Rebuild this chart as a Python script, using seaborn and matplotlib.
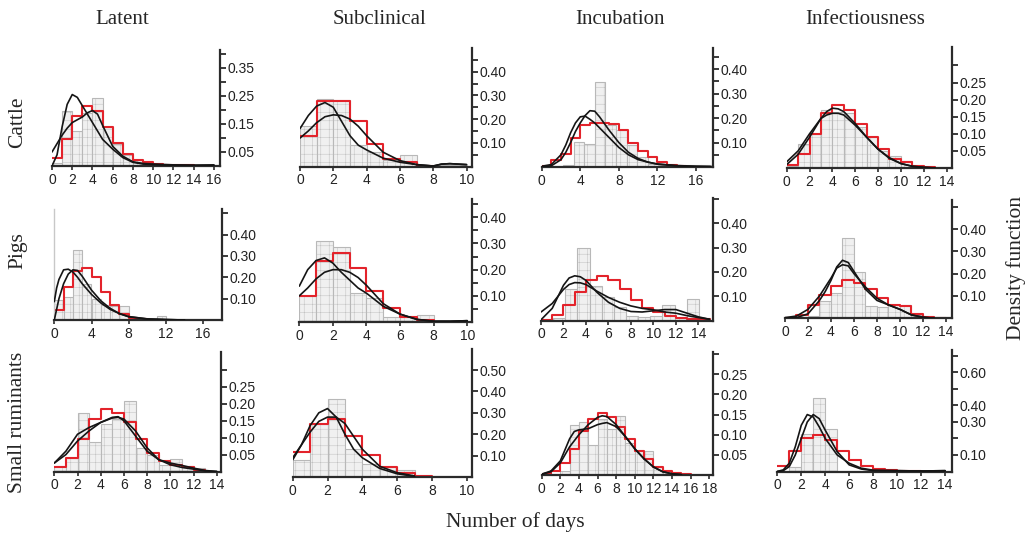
import numpy as np
import pandas as pd
import matplotlib
matplotlib.use("Agg")
import matplotlib.pyplot as plt
import seaborn as sns

# ---------------- data ----------------
col_titles = ["Latent", "Subclinical", "Incubation", "Infectiousness"]
row_titles = ["Cattle", "Pigs", "Small ruminants"]

# Cattle - Latent
cl_gray = [0.01, 0.195, 0.125, 0.19, 0.243, 0.14, 0.08, 0.04, 0.02, 0.01, 0.005, 0.004, 0.003, 0.002, 0.002, 0.004]
cl_red = [0.03, 0.098, 0.18, 0.213, 0.195, 0.139, 0.082, 0.044, 0.02, 0.014, 0.008, 0.005, 0.003, 0.002]
cl_x = [0, 0.5, 1, 1.5, 2, 2.5, 3, 3.5, 4, 4.5, 5, 6, 7, 8, 9, 10, 12, 14, 16]
cl_a = [0.0, 0.04, 0.14, 0.22, 0.255, 0.245, 0.215, 0.185, 0.155, 0.125, 0.095, 0.06, 0.03, 0.013, 0.007, 0.005, 0.003, 0.002, 0.002]
cl_b = [0.05, 0.08, 0.11, 0.135, 0.155, 0.165, 0.175, 0.19, 0.198, 0.185, 0.145, 0.07, 0.035, 0.015, 0.009, 0.007, 0.004, 0.003, 0.004]

# Cattle - Subclinical
cs_gray = [0.172, 0.285, 0.279, 0.09, 0.06, 0.028, 0.05, 0.0, 0.005, 0.005]
cs_red = [0.13, 0.277, 0.277, 0.19, 0.094, 0.03, 0.02, 0.003]
cs_x = [0, 0.5, 1, 1.5, 2, 2.5, 3, 3.5, 4, 5, 6, 7, 8, 8.5, 9, 10]
cs_a = [0.16, 0.215, 0.255, 0.27, 0.25, 0.19, 0.13, 0.09, 0.07, 0.035, 0.018, 0.008, 0.002, 0.01, 0.012, 0.008]
cs_b = [0.12, 0.15, 0.185, 0.21, 0.218, 0.215, 0.2, 0.17, 0.13, 0.06, 0.025, 0.008, 0.002, 0.01, 0.012, 0.008]

# Cattle - Incubation (gray bins are ~1.1 days wide)
ci_gray_width = 1.1
ci_gray = [0.0, 0.0, 0.01, 0.104, 0.095, 0.346, 0.17, 0.15, 0.09, 0.04, 0.012, 0.01, 0.01, 0.008, 0.008, 0.008]
ci_red = [0.003, 0.027, 0.054, 0.12, 0.172, 0.18, 0.18, 0.175, 0.15, 0.10, 0.065, 0.04, 0.02, 0.01, 0.005]
ci_x = [0, 1, 2, 2.5, 3, 3.5, 4, 4.5, 5, 5.5, 6, 7, 8, 9, 10, 11, 12, 14, 16, 17.5]
ci_a = [0.0, 0.005, 0.03, 0.06, 0.1, 0.145, 0.18, 0.21, 0.23, 0.228, 0.205, 0.15, 0.1, 0.06, 0.035, 0.02, 0.012, 0.005, 0.002, 0.001]
ci_b = [0.003, 0.01, 0.05, 0.09, 0.14, 0.18, 0.205, 0.208, 0.195, 0.18, 0.16, 0.12, 0.08, 0.05, 0.03, 0.02, 0.012, 0.006, 0.003, 0.002]

# Cattle - Infectiousness
cf_gray = [0.005, 0.069, 0.10, 0.169, 0.165, 0.16, 0.12, 0.09, 0.05, 0.034, 0.02, 0.005, 0.002]
cf_red = [0.008, 0.04, 0.10, 0.16, 0.185, 0.17, 0.13, 0.09, 0.057, 0.025, 0.017, 0.005, 0.002]
cf_x = [0, 1, 2, 3, 3.5, 4, 4.5, 5, 6, 7, 8, 9, 10, 11, 12, 13]
cf_a = [0.01, 0.04, 0.09, 0.145, 0.165, 0.175, 0.173, 0.165, 0.13, 0.09, 0.055, 0.03, 0.013, 0.005, 0.002, 0.0]
cf_b = [0.018, 0.05, 0.1, 0.145, 0.155, 0.16, 0.16, 0.155, 0.125, 0.09, 0.055, 0.028, 0.013, 0.005, 0.002, 0.0]

# Pigs - Latent
pl_gray = [0.094, 0.11, 0.328, 0.17, 0.10, 0.07, 0.065, 0.065, 0.015, 0.01, 0.005, 0.02, 0.005]
pl_red = [0.047, 0.155, 0.23, 0.245, 0.2, 0.133, 0.07, 0.03, 0.01, 0.005]
pl_x = [0, 0.25, 0.5, 1, 1.5, 2, 2.5, 3, 4, 5, 6, 7, 8, 10, 12, 14]
pl_a = [0.086, 0.15, 0.19, 0.235, 0.238, 0.225, 0.2, 0.17, 0.12, 0.08, 0.05, 0.03, 0.015, 0.005, 0.002, 0.0]
pl_b = [0.0, 0.05, 0.1, 0.17, 0.215, 0.235, 0.232, 0.205, 0.14, 0.09, 0.055, 0.03, 0.016, 0.005, 0.002, 0.0]

# Pigs - Subclinical
ps_gray = [0.098, 0.309, 0.286, 0.11, 0.09, 0.02, 0.02, 0.025]
ps_red = [0.10, 0.235, 0.265, 0.205, 0.12, 0.055, 0.02, 0.008]
ps_x = [0, 0.5, 1, 1.5, 2, 2.5, 3, 3.5, 4, 5, 6, 7, 8, 9, 10]
ps_a = [0.137, 0.2, 0.235, 0.245, 0.225, 0.19, 0.16, 0.13, 0.11, 0.06, 0.03, 0.01, 0.003, 0.003, 0.005]
ps_b = [0.1, 0.13, 0.165, 0.19, 0.2, 0.2, 0.19, 0.17, 0.14, 0.07, 0.03, 0.01, 0.003, 0.003, 0.005]

# Pigs - Incubation (gray bins are ~1.08 days wide)
pi_gray_width = 1.08
pi_gray = [0.0, 0.01, 0.13, 0.30, 0.14, 0.097, 0.056, 0.02, 0.015, 0.02, 0.065, 0.01, 0.088]
pi_red = [0.003, 0.021, 0.063, 0.118, 0.166, 0.182, 0.166, 0.129, 0.083, 0.05, 0.035, 0.02, 0.012, 0.008, 0.005]
pi_x = [0, 1, 2, 2.5, 3, 3.5, 4, 5, 6, 7, 8, 9, 10, 11, 12, 13, 14, 15]
pi_a = [0.003, 0.05, 0.145, 0.175, 0.184, 0.18, 0.165, 0.115, 0.075, 0.05, 0.037, 0.035, 0.04, 0.045, 0.045, 0.03, 0.015, 0.005]
pi_b = [0.035, 0.07, 0.128, 0.148, 0.156, 0.155, 0.148, 0.12, 0.095, 0.075, 0.06, 0.05, 0.044, 0.035, 0.03, 0.02, 0.012, 0.005]

# Pigs - Infectiousness
pf_gray = [0.0, 0.0, 0.01, 0.078, 0.115, 0.36, 0.207, 0.055, 0.05, 0.06, 0.06, 0.015]
pf_red = [0.003, 0.015, 0.06, 0.105, 0.145, 0.17, 0.16, 0.13, 0.09, 0.06, 0.055, 0.02, 0.005, 0.003]
pf_x = [0, 1, 2, 3, 3.5, 4, 4.5, 5, 5.5, 6, 6.5, 7, 8, 9, 10, 11, 12, 13]
pf_a = [0.0, 0.003, 0.02, 0.08, 0.12, 0.17, 0.23, 0.26, 0.25, 0.21, 0.17, 0.13, 0.08, 0.06, 0.04, 0.015, 0.005, 0.0]
pf_b = [0.003, 0.01, 0.04, 0.1, 0.14, 0.18, 0.225, 0.24, 0.235, 0.2, 0.17, 0.14, 0.09, 0.06, 0.04, 0.015, 0.005, 0.0]

# Small ruminants - Latent
sl_gray = [0.015, 0.04, 0.174, 0.086, 0.14, 0.155, 0.207, 0.069, 0.05, 0.02, 0.036, 0.015, 0.01]
sl_red = [0.012, 0.041, 0.096, 0.156, 0.184, 0.174, 0.146, 0.096, 0.055, 0.03, 0.02, 0.012, 0.005]
sl_x = [0, 1, 2, 3, 4, 5, 5.5, 6, 7, 8, 9, 10, 11, 12, 13, 14]
sl_a = [0.025, 0.06, 0.11, 0.13, 0.145, 0.16, 0.162, 0.15, 0.105, 0.06, 0.035, 0.025, 0.018, 0.01, 0.003, 0.0]
sl_b = [0.025, 0.05, 0.09, 0.12, 0.145, 0.158, 0.16, 0.155, 0.12, 0.07, 0.035, 0.02, 0.012, 0.007, 0.002, 0.0]

# Small ruminants - Subclinical
ss_gray = [0.081, 0.249, 0.366, 0.13, 0.06, 0.047, 0.031]
ss_red = [0.117, 0.25, 0.27, 0.19, 0.104, 0.045, 0.019, 0.005]
ss_x = [0, 0.5, 1, 1.5, 2, 2.5, 3, 3.5, 4, 5, 6, 7]
ss_a = [0.08, 0.15, 0.24, 0.3, 0.32, 0.28, 0.2, 0.13, 0.09, 0.04, 0.015, 0.003]
ss_b = [0.09, 0.15, 0.21, 0.26, 0.28, 0.28, 0.25, 0.19, 0.13, 0.05, 0.02, 0.005]

# Small ruminants - Incubation
si_gray = [0.0, 0.0, 0.01, 0.125, 0.132, 0.075, 0.14, 0.114, 0.147, 0.08, 0.06, 0.06, 0.02, 0.01]
si_red = [0.002, 0.01, 0.03, 0.065, 0.11, 0.14, 0.155, 0.145, 0.12, 0.09, 0.06, 0.04, 0.02, 0.01, 0.005, 0.002]
si_x = [0, 1, 2, 3, 3.5, 4, 5, 6, 6.5, 7, 8, 9, 10, 11, 12, 13, 14, 15]
si_a = [0.002, 0.008, 0.03, 0.07, 0.085, 0.1, 0.125, 0.143, 0.147, 0.145, 0.125, 0.095, 0.065, 0.04, 0.02, 0.008, 0.003, 0.001]
si_b = [0.002, 0.01, 0.035, 0.09, 0.108, 0.112, 0.115, 0.125, 0.128, 0.13, 0.12, 0.095, 0.065, 0.04, 0.02, 0.008, 0.003, 0.001]

# Small ruminants - Infectiousness
sf_gray = [0.0, 0.03, 0.226, 0.444, 0.257]
sf_red = [0.034, 0.125, 0.2, 0.222, 0.19, 0.127, 0.07, 0.036, 0.015, 0.008, 0.005, 0.002]
sf_x = [0, 0.5, 1, 1.5, 2, 2.5, 3, 3.5, 4, 5, 6, 7, 8, 10, 12, 14]
sf_a = [0.0, 0.01, 0.05, 0.15, 0.28, 0.345, 0.33, 0.27, 0.2, 0.1, 0.05, 0.02, 0.008, 0.005, 0.003, 0.005]
sf_b = [0.0, 0.005, 0.03, 0.1, 0.2, 0.3, 0.345, 0.32, 0.25, 0.12, 0.04, 0.015, 0.005, 0.005, 0.003, 0.005]

# axis ticks
xt_16 = [0, 2, 4, 6, 8, 10, 12, 14, 16]
xt_10 = [0, 2, 4, 6, 8, 10]
xt_16b = [0, 4, 8, 12, 16]
xt_14 = [0, 2, 4, 6, 8, 10, 12, 14]
xt_18 = [0, 2, 4, 6, 8, 10, 12, 14, 16, 18]

# ---------------- layout (pixels in the 1033x538 image) ----------------
W, H = 1033, 538
# x of day 0, x of right spine, y of baseline, y of top, x max (days), y max
geom = {
    "cl": (52, 220, 166, 50, 16.6, 0.414),
    "cs": (300, 472, 166.5, 48, 10.33, 0.50),
    "ci": (541.7, 713.3, 167, 48.3, 17.8, 0.485),
    "cf": (786.7, 952.3, 168, 47.3, 14.5, 0.353),
    "pl": (54.3, 221.7, 320, 209, 18.0, 0.52),
    "ps": (299.3, 472.3, 322, 199, 10.3, 0.47),
    "pi": (541, 713.3, 320.5, 198.3, 15.33, 0.503),
    "pf": (785, 951.7, 318.3, 200, 14.5, 0.53),
    "sl": (54.3, 221, 471.5, 351.7, 14.37, 0.354),
    "ss": (292.7, 472.3, 477, 349.3, 10.32, 0.597),
    "si": (541.7, 713.3, 475, 351.7, 18.43, 0.306),
    "sf": (777.3, 951.7, 471.5, 350, 14.55, 0.736),
}

def yt(lo, hi, step):
    return [round(float(v), 2) for v in np.arange(lo, hi + 1e-9, step)]

panels = [
    ("cl", cl_gray, 1.0, cl_red, cl_x, cl_a, cl_b, xt_16, yt(0.05, 0.40, 0.05), [0.05, 0.15, 0.25, 0.35]),
    ("cs", cs_gray, 1.0, cs_red, cs_x, cs_a, cs_b, xt_10, yt(0.05, 0.45, 0.05), [0.10, 0.20, 0.30, 0.40]),
    ("ci", ci_gray, ci_gray_width, ci_red, ci_x, ci_a, ci_b, xt_16b, yt(0.05, 0.45, 0.05), [0.10, 0.20, 0.30, 0.40]),
    ("cf", cf_gray, 1.0, cf_red, cf_x, cf_a, cf_b, xt_14, yt(0.05, 0.30, 0.05), [0.05, 0.10, 0.15, 0.20, 0.25]),
    ("pl", pl_gray, 1.0, pl_red, pl_x, pl_a, pl_b, xt_16b, yt(0.10, 0.50, 0.10), [0.10, 0.20, 0.30, 0.40]),
    ("ps", ps_gray, 1.0, ps_red, ps_x, ps_a, ps_b, xt_10, yt(0.05, 0.45, 0.05), [0.10, 0.20, 0.30, 0.40]),
    ("pi", pi_gray, pi_gray_width, pi_red, pi_x, pi_a, pi_b, xt_14, yt(0.10, 0.50, 0.10), [0.10, 0.20, 0.30, 0.40]),
    ("pf", pf_gray, 1.0, pf_red, pf_x, pf_a, pf_b, xt_14, yt(0.10, 0.50, 0.10), [0.10, 0.20, 0.30, 0.40]),
    ("sl", sl_gray, 1.0, sl_red, sl_x, sl_a, sl_b, xt_14, yt(0.05, 0.30, 0.05), [0.05, 0.10, 0.15, 0.20, 0.25]),
    ("ss", ss_gray, 1.0, ss_red, ss_x, ss_a, ss_b, xt_10, yt(0.10, 0.50, 0.10), [0.10, 0.20, 0.30, 0.40, 0.50]),
    ("si", si_gray, 1.0, si_red, si_x, si_a, si_b, xt_18, yt(0.05, 0.30, 0.05), [0.05, 0.10, 0.15, 0.20, 0.25]),
    ("sf", sf_gray, 1.0, sf_red, sf_x, sf_a, sf_b, xt_14, yt(0.10, 0.70, 0.10), [0.10, 0.30, 0.40, 0.60]),
]

# ---------------- drawing ----------------
sns.set_theme(style="white")
plt.rcParams["font.family"] = ["Liberation Sans", "DejaVu Sans"]
plt.rcParams["hatch.linewidth"] = 0.3

fig = plt.figure(figsize=(W / 100, H / 100), dpi=100)
fig.patch.set_facecolor("white")

SPINE = "#2b2b2b"
for key, gray, gw, red, cx, ca, cb, xticks, yticks, ylab in panels:
    x0, xr, base, top, xmax, ymax = geom[key]
    ax = fig.add_axes([x0 / W, 1 - base / H, (xr - x0) / W, (base - top) / H])
    ax.set_facecolor("none")

    gedges = [round(i * gw, 4) for i in range(len(gray) + 1)]
    gdf = pd.DataFrame({"day": [e + gw / 2 for e in gedges[:-1]], "w": gray})
    sns.histplot(data=gdf, x="day", weights="w", bins=gedges, stat="count",
                 element="bars", fill=True, facecolor="#f0f0f0",
                 edgecolor="#b8b8b8", linewidth=0.8, alpha=1, hatch="++",
                 ax=ax, zorder=1)
    redges = list(range(len(red) + 1))
    rdf = pd.DataFrame({"day": [e + 0.5 for e in redges[:-1]], "w": red})
    sns.histplot(data=rdf, x="day", weights="w", bins=redges, stat="count",
                 element="step", fill=False, color="#e3232b", linewidth=1.5,
                 ax=ax, zorder=2)
    sns.lineplot(x=cx, y=ca, color="#151515", linewidth=1.2, ax=ax, zorder=3)
    sns.lineplot(x=cx, y=cb, color="#151515", linewidth=1.2, ax=ax, zorder=3)

    ax.set_xlim(0, xmax)
    ax.set_ylim(0, ymax)
    ax.set_xlabel("")
    ax.set_ylabel("")
    ax.set_xticks(xticks)
    ax.set_xticklabels([str(t) for t in xticks])
    ax.set_yticks(yticks)
    ax.set_yticklabels([f"{t:.2f}" if any(abs(t - l) < 1e-6 for l in ylab) else "" for t in yticks])

    ax.yaxis.tick_right()
    ax.spines["top"].set_visible(False)
    if key == "pl":
        ax.spines["left"].set_color("#c8c8c8")
        ax.spines["left"].set_linewidth(1.0)
    else:
        ax.spines["left"].set_visible(False)
    ax.spines["right"].set_color(SPINE)
    ax.spines["right"].set_linewidth(1.6)
    ax.spines["bottom"].set_color(SPINE)
    ax.spines["bottom"].set_linewidth(1.6)
    ax.tick_params(axis="y", which="both", right=True, left=False, labelright=True,
                   labelleft=False, direction="out", length=4, width=1.3,
                   color=SPINE, labelsize=10, labelcolor="#222222", pad=1.5)
    ax.tick_params(axis="x", which="both", bottom=True, direction="out", length=3,
                   width=1.2, color=SPINE, labelsize=10, labelcolor="#222222", pad=2)

serif = ["Liberation Serif", "DejaVu Serif"]
col_x = [122, 379, 620, 865]
for t, x in zip(col_titles, col_x):
    fig.text(x / W, 1 - 19 / H, t, ha="center", va="center", fontsize=15, family=serif)
row_y = [122, 251, 422]
for t, y in zip(row_titles, row_y):
    fig.text(18 / W, 1 - y / H, t, ha="center", va="center", rotation=90, fontsize=15.5, family=serif)
fig.text(1016 / W, 1 - 268 / H, "Density function", ha="center", va="center", rotation=90,
         fontsize=15.5, family=serif)
fig.text(515 / W, 1 - 522 / H, "Number of days", ha="center", va="center", fontsize=15.5, family=serif)

fig.savefig("out.png", dpi=100, facecolor="white")
